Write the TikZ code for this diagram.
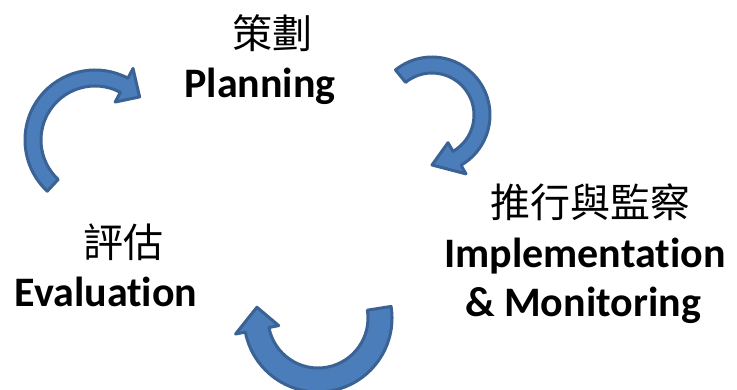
\documentclass[tikz,border=0pt]{standalone}
\usepackage{fontspec}
\setmainfont{Carlito}[Ligatures={NoCommon, NoRare, NoContextual}]
\newfontfamily\cjk{Noto Sans CJK TC}
\usepackage{tikz}
\usetikzlibrary{positioning, calc}
\definecolor{arrowblue}{HTML}{4A7DBA}
\definecolor{arrowedge}{HTML}{3A6295}
\tikzset{
  cycarrow/.style={fill=arrowblue, draw=arrowedge, line width=3, line join=round},
  zhlabel/.style={font=\cjk\fontsize{40}{44}\selectfont, inner sep=0pt},
  enlabel/.style={font=\bfseries\fontsize{42}{48}\selectfont, inner sep=0pt, anchor=base}
}
% curved block arrow: centre, radius, from angle, to angle, tip angle, half width, half head
\newcommand{\bentarrow}[7]{%
  \filldraw[cycarrow]
    ($(#1)+(#3:#2+#6)$) arc[start angle=#3, end angle=#4, radius=#2+#6]
    -- ($(#1)+(#4:#2+#7)$) -- ($(#1)+(#5:#2)$) -- ($(#1)+(#4:#2-#7)$)
    -- ($(#1)+(#4:#2-#6)$) arc[start angle=#4, end angle=#3, radius=#2-#6] -- cycle;
}

\begin{document}
\begin{tikzpicture}[x=1pt, y=-1pt]
  \useasboundingbox (0,0) rectangle (737,390);

  % Arrow centres
  \coordinate (c-eval) at (95,140);
  \coordinate (c-plan) at (432,115);
  \coordinate (c-impl) at (318,318);

  % Arrows
  \bentarrow{c-eval}{62}{133}{298}{316}{8}{19}
  \bentarrow{c-plan}{50}{231}{420}{450}{8}{18}
  \bentarrow{c-impl}{62}{-9}{169}{190}{12}{22}

  % Labels
  \node[zhlabel] (plan-zh) at (272,33) {策劃};
  \node[enlabel] (plan-en) at (260,98) {Planning};

  \node[zhlabel] (impl-zh) at (590,202) {推行與監察};
  \node[enlabel] (impl-en) at (585,268) {Implementation};
  \node[enlabel] (impl-en2) at (583,317) {\& Monitoring};

  \node[zhlabel] (eval-zh) at (123,242) {評估};
  \node[enlabel] (eval-en) at (106,307) {Evaluation};
\end{tikzpicture}
\end{document}
